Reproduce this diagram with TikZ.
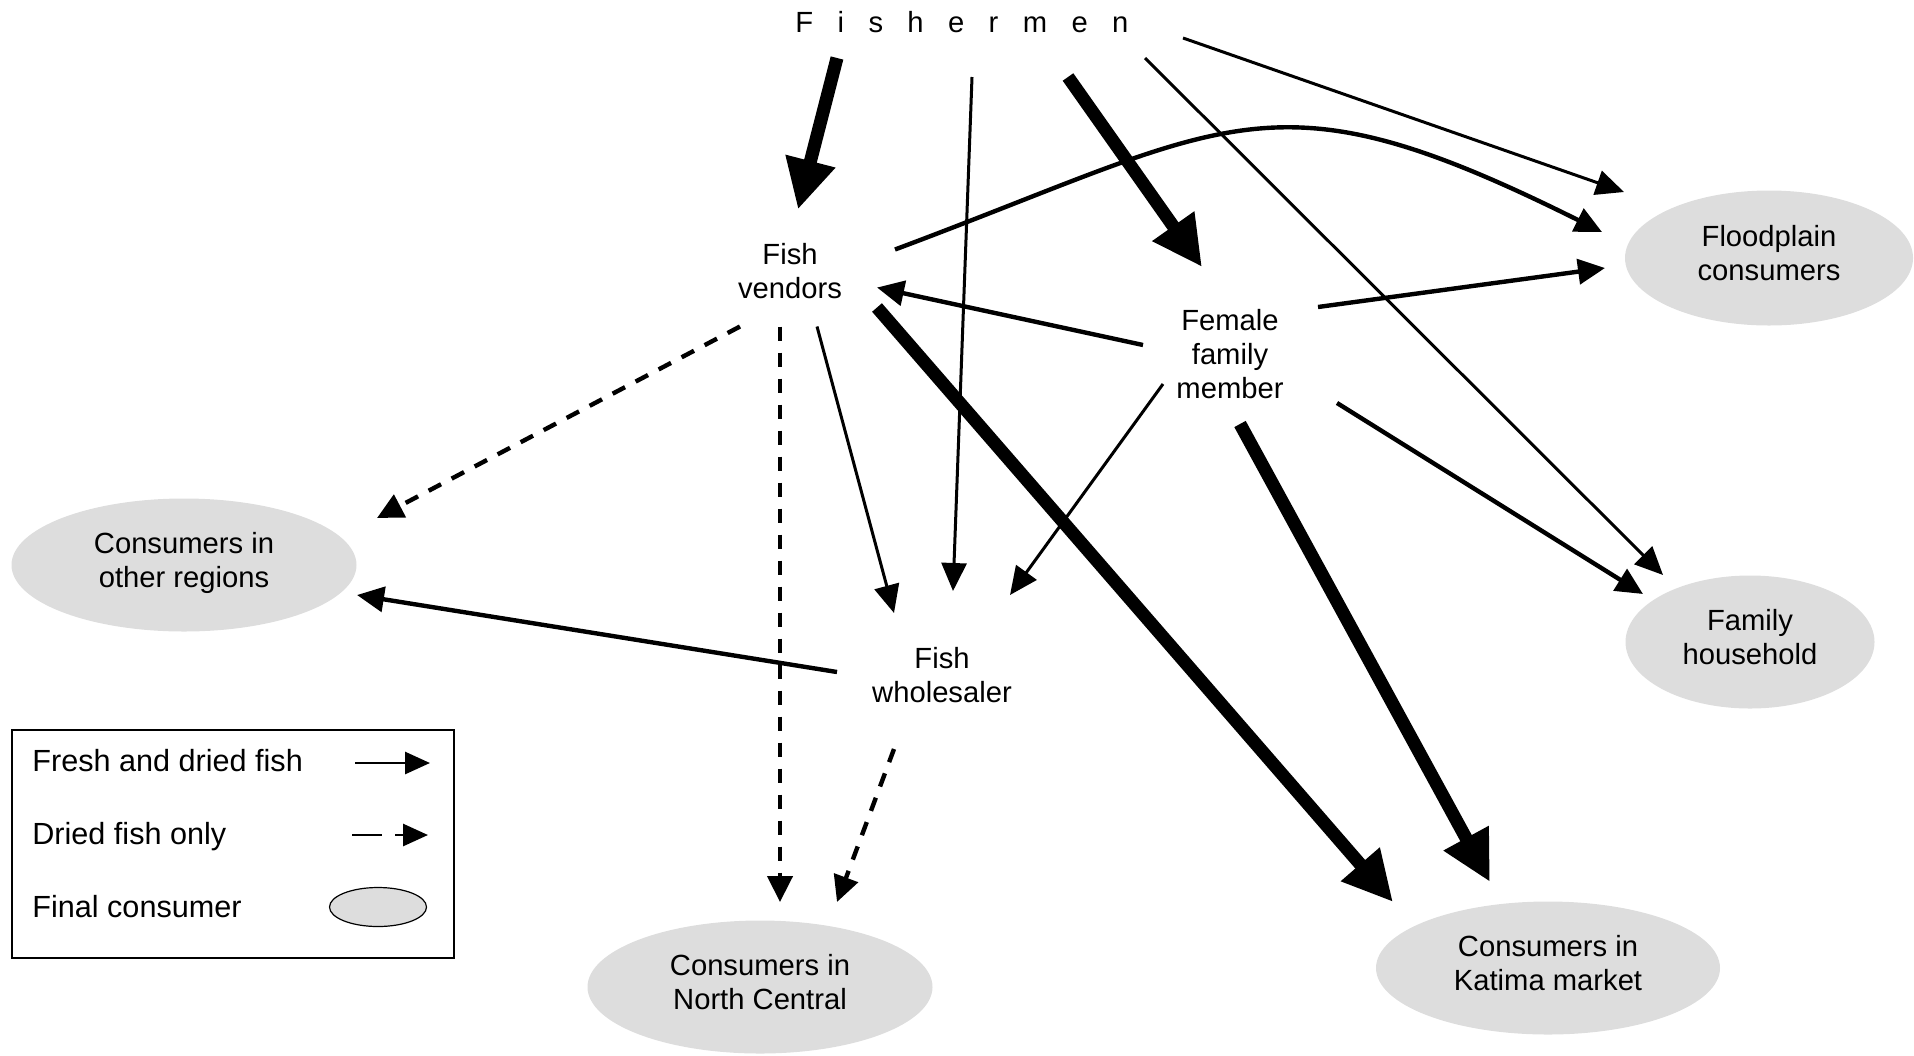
\documentclass[tikz,border=0pt]{standalone}
\usepackage{fontspec}
\setmainfont{Liberation Sans}
\usetikzlibrary{arrows.meta,shapes.geometric,calc}
\definecolor{consumergrey}{RGB}{221,221,221}

\begin{document}
\begin{tikzpicture}[x=0.5pt,y=0.5pt,yscale=-1,xscale=1,
  actor/.style={align=center,inner sep=0pt,font=\fontsize{14.6}{17}\selectfont},
  consumer/.style={ellipse,fill=consumergrey,align=center,inner sep=0pt,text depth=5pt,minimum height=66.5pt,font=\fontsize{14.6}{17}\selectfont},
  legendtext/.style={inner sep=0pt,font=\fontsize{15.3}{18}\selectfont},
  thinflow/.style={line width=1.5pt,-{Triangle[length=14pt,width=12.5pt]}},
  midflow/.style={line width=2.2pt,-{Triangle[length=13.5pt,width=12.5pt]}},
  mainflow/.style={line width=6.5pt,-{Triangle[length=25pt,width=24pt]}},
  driedflow/.style={line width=2.2pt,dash pattern=on 7pt off 6pt,-{Triangle[length=13pt,width=12.5pt]}}]
\useasboundingbox (0,0) rectangle (1914,1055);

% Text Node
\draw (795,32) node [actor,anchor=base west] (fm) {\addfontfeature{LetterSpace=83.5}Fishermen};
% Text Node
\draw (790,271.5) node [actor] (fv) {Fish\\vendors};
% Text Node
\draw (1230,354) node [actor] (ff) {Female\\family\\member};
% Text Node
\draw (942,675) node [actor] (fw) {Fish\\wholesaler};

%Shape: Ellipse
\draw (1769,258) node [consumer,minimum width=144pt,minimum height=67.5pt] (fp) {Floodplain\\consumers};
%Shape: Ellipse
\draw (1750,642) node [consumer,minimum width=124.5pt] (fh) {Family\\household};
%Shape: Ellipse
\draw (184,565) node [consumer,minimum width=172.5pt] (cor) {Consumers in\\other regions};
%Shape: Ellipse
\draw (760,987) node [consumer,minimum width=172.5pt] (cnc) {Consumers in\\North Central};
%Shape: Ellipse
\draw (1548,968) node [consumer,minimum width=172pt] (ckm) {Consumers in\\Katima market};

%Straight Lines from fishermen
\draw [mainflow] ($(fm.base west)+(42,26)$) -- ($(fv)+(8,-62)$);
\draw [thinflow] ($(fm.base west)+(177,45)$) -- ($(fw)+(11,-84)$);
\draw [mainflow] ($(fm.base west)+(273,45)$) -- ($(ff)+(-28,-87)$);
\draw [thinflow] ($(fm.base west)+(350,26)$) -- ($(fh)+(-87,-67)$);
\draw [thinflow] ($(fm.base west)+(388,6)$) -- ($(fp)+(-145,-66)$);

%Curve Lines
\draw [midflow] ($(fv)+(105,-22)$) .. controls ($(fv)+(445,-149)$) and ($(fv)+(480,-205)$) .. ($(fp)+(-167,-26)$);

%Straight Lines from fish vendors
\draw [mainflow] ($(fv)+(87,36)$) -- ($(ckm)+(-155,-66)$);
\draw [thinflow] ($(fv)+(27,55)$) -- ($(fw)+(-48,-62)$);
\draw [driedflow] ($(fv)+(-50,55)$) -- ($(cor)+(193,-47)$);
\draw [driedflow] ($(fv)+(-10,55)$) -- ($(cnc)+(20,-85)$);

%Straight Lines from female family member
\draw [midflow] ($(ff)+(-87,-9)$) -- ($(fv)+(87,16)$);
\draw [midflow] ($(ff)+(88,-47)$) -- ($(fp)+(-164,10)$);
\draw [thinflow] ($(ff)+(-67,30)$) -- ($(fw)+(68,-80)$);
\draw [midflow] ($(ff)+(107,49)$) -- ($(fh)+(-107,-48)$);
\draw [mainflow] ($(ff)+(10,70)$) -- ($(ckm)+(-58,-86)$);

%Straight Lines from fish wholesaler
\draw [midflow] ($(fw)+(-105,-3)$) -- ($(cor)+(173,30)$);
\draw [driedflow] ($(fw)+(-48,74)$) -- ($(cnc)+(77,-85)$);

%Shape: Rectangle (legend)
\draw [line width=0.8pt] (12,730) rectangle (454,958);
% Text Node
\draw (32,771) node [legendtext,anchor=base west] (lg-fresh) {Fresh and dried fish};
% Text Node
\draw (32,844) node [legendtext,anchor=base west] (lg-dried) {Dried fish only};
% Text Node
\draw (32,917) node [legendtext,anchor=base west] (lg-final) {Final consumer};
\coordinate (lg-fa) at (355,763);
\coordinate (lg-fb) at (430,763);
\coordinate (lg-da) at (352,835);
\coordinate (lg-db) at (428,835);
\draw [line width=1.4pt,-{Triangle[length=12.5pt,width=11pt]}] (lg-fa) -- (lg-fb);
\draw [line width=1.4pt,dash pattern=on 15pt off 6.5pt,-{Triangle[length=12.5pt,width=11pt]}] (lg-da) -- (lg-db);
\draw (378,907) node [ellipse,draw,line width=0.6pt,fill=consumergrey,inner sep=0pt,minimum width=48.5pt,minimum height=19.5pt] (lg-oval) {};

\end{tikzpicture}
\end{document}
